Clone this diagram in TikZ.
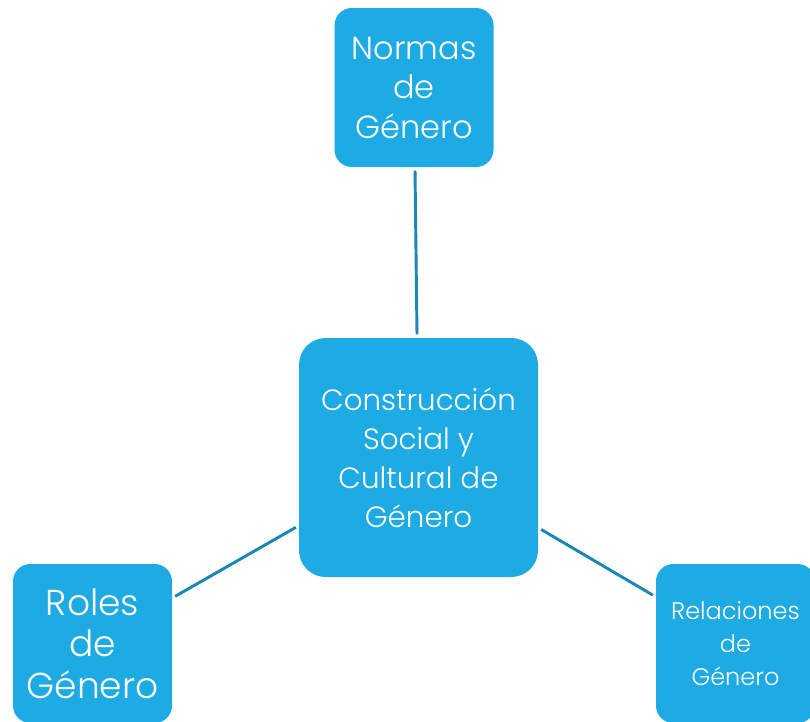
\documentclass[tikz,border=0pt]{standalone}
\usepackage{fontspec}
\setmainfont{Poppins Light}
\definecolor{cajaazul}{RGB}{30,171,227}
\definecolor{lineaazul}{RGB}{27,135,179}
\begin{document}
\begin{tikzpicture}[x=0.75pt,y=-0.75pt,
  caja/.style={fill=cajaazul, text=white, align=center, inner sep=0pt},
  chica/.style={caja, minimum size=119.25pt, rounded corners=13pt},
  enlace/.style={draw=lineaazul, line width=2.2pt, shorten <=2.5pt, shorten >=2.5pt}]
  \useasboundingbox (0,0) rectangle (810,721);

  % central box
  \node[caja, minimum size=179.25pt, rounded corners=20pt,
        font=\fontsize{22}{29.2}\selectfont] (centro) at (418.5,457.5)
        {Construcción\\Social y\\Cultural de\\Género};

  % outer boxes
  \node[chica, font=\fontsize{24}{29.6}\selectfont] (normas) at (414,87.5)
        {Normas\\de\\Género};
  \node[chica, font=\fontsize{27}{31}\selectfont] (roles) at (92.5,643.5)
        {Roles\\de\\Género};
  \node[chica, font=\fontsize{18}{24.8}\selectfont] (relaciones) at (735.5,643.5)
        {Relaciones\\de\\Género};

  \draw[enlace] (centro) -- (normas);
  \draw[enlace] (centro) -- (roles);
  \draw[enlace] (centro) -- (relaciones);
\end{tikzpicture}
\end{document}
